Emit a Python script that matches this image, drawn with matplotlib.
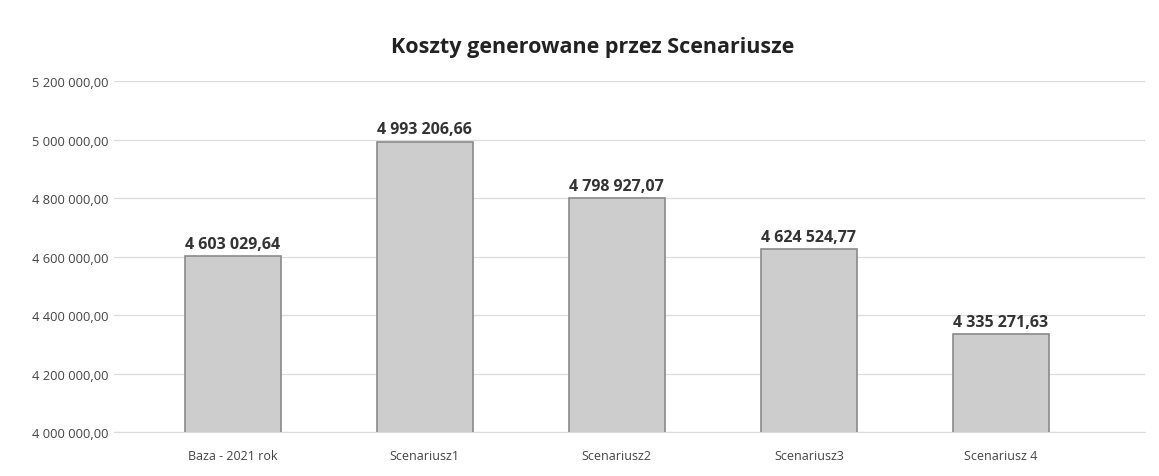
import matplotlib
matplotlib.use("Agg")
import matplotlib.pyplot as plt
from matplotlib.ticker import FuncFormatter

categories = ["Baza - 2021 rok", "Scenariusz1", "Scenariusz2", "Scenariusz3", "Scenariusz 4"]
values = [4603029.64, 4993206.66, 4798927.07, 4624524.77, 4335271.63]
yticks = [4000000, 4200000, 4400000, 4600000, 4800000, 5000000, 5200000]
title = "Koszty generowane przez Scenariusze"

plt.rcParams['font.family'] = ['Open Sans', 'DejaVu Sans']

def fmt(v, decimals=2):
    s = f"{v:,.{decimals}f}"
    return s.replace(",", " ").replace(".", ",")

fig = plt.figure(figsize=(11.59, 4.77), dpi=100)
ax = fig.add_axes([0.098, 0.092, 0.890, 0.736])

x = range(len(categories))
ax.bar(x, values, width=0.5, color="#cdcdcd", edgecolor="#8a8a8a", linewidth=1.2, zorder=3)
for xi, v in zip(x, values):
    ax.text(xi, v + 14000, fmt(v), ha="center", va="bottom", fontsize=11.5,
            fontweight="bold", color="#333333")

ax.set_ylim(4000000, 5200000)
ax.set_xlim(-0.62, len(categories) - 0.25)
ax.set_yticks(yticks)
ax.yaxis.set_major_formatter(FuncFormatter(lambda v, p: fmt(v)))
ax.set_xticks(list(x))
ax.set_xticklabels(categories)
ax.tick_params(axis="y", length=0, labelsize=9.3, labelcolor="#444444", pad=4)
ax.tick_params(axis="x", length=0, labelsize=9, labelcolor="#444444", pad=12)
ax.grid(axis="y", color="#dcdcdc", linewidth=0.9, zorder=0)
for s in ["top", "right", "left"]:
    ax.spines[s].set_visible(False)
ax.spines["bottom"].set_color("#dcdcdc")

fig.text(0.511, 0.90, title, ha="center", va="center", fontsize=15.5,
         fontweight="bold", color="#222222")

fig.savefig("out.png", dpi=100, facecolor="white")
